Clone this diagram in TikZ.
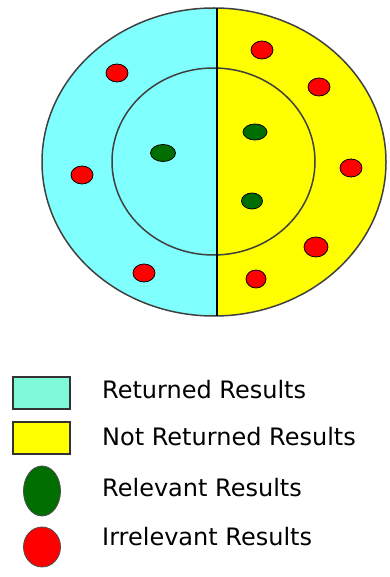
\documentclass[tikz,border=0pt]{standalone}
\usepackage{fontspec}
\setmainfont{DejaVu Sans}
\usetikzlibrary{shapes.geometric}

\definecolor{retcyan}{HTML}{80FFFF}
\definecolor{legcyan}{HTML}{7FFAD8}
\definecolor{notyellow}{HTML}{FFFF00}
\definecolor{relgreen}{HTML}{006E00}
\definecolor{irrred}{HTML}{FF0000}
\definecolor{rimgray}{HTML}{404040}

\tikzset{
  irrdot/.style={ellipse, draw=black, line width=0.8pt, fill=irrred,
    minimum width=22pt, minimum height=18pt, inner sep=0pt},
  reldot/.style={ellipse, draw=black, line width=0.8pt, fill=relgreen,
    minimum width=22pt, minimum height=17pt, inner sep=0pt},
  legbox/.style={rectangle, draw=black!80, line width=2pt,
    minimum width=57pt, minimum height=32pt, inner sep=0pt},
  legtext/.style={anchor=west, inner sep=0pt, font=\fontsize{24}{26}\selectfont}
}

\begin{document}
\begin{tikzpicture}[x=1pt, y=-1pt]

    \useasboundingbox (0,0) rectangle (389,577);

    % === 中心与分界 ===
    \coordinate (O) at (214, 162);
    \coordinate (T) at (217, 8);
    \coordinate (B) at (217, 316);

    % === 两半着色 ===
    \begin{scope}
      \clip (O) ellipse [x radius=172, y radius=154];
      \fill[retcyan] (0,0) rectangle (217,330);
      \fill[notyellow] (217,0) rectangle (400,330);
    \end{scope}

    % === 外圈、内圈与竖线 ===
    \draw[rimgray, line width=1.5pt] (O) ellipse [x radius=172, y radius=154];
    \draw[rimgray, line width=1.5pt] (213.5, 161.5) ellipse [x radius=101.5, y radius=93.5];
    \draw[black, line width=1.5pt] (T) -- (B);

    % === 不相关结果 ===
    \node[irrdot] (r1) at (117, 73) {};
    \node[irrdot] (r2) at (82, 175) {};
    \node[irrdot] (r3) at (144, 273) {};
    \node[irrdot] (r4) at (262, 50) {};
    \node[irrdot] (r5) at (319, 87) {};
    \node[irrdot] (r6) at (351, 168) {};
    \node[irrdot, minimum width=24pt, minimum height=20pt] (r7) at (316, 247) {};
    \node[irrdot, minimum width=20pt] (r8) at (256, 279) {};

    % === 相关结果 ===
    \node[reldot, minimum width=25pt] (g1) at (163, 153) {};
    \node[reldot, minimum width=24pt, minimum height=16pt] (g2) at (255, 132) {};
    \node[reldot, minimum width=21pt, minimum height=16pt] (g3) at (252, 201) {};

    % === 图例 ===
    \node[legbox, fill=legcyan] (kRet) at (41, 393) {};
    \node[legbox, fill=notyellow] (kNot) at (41, 438) {};
    \node[ellipse, draw=black!70, line width=0.8pt, fill=relgreen,
      minimum width=37pt, minimum height=50pt, inner sep=0pt] (kRel) at (42, 491) {};
    \node[ellipse, draw=black!70, line width=0.8pt, fill=irrred,
      minimum width=37pt, minimum height=40pt, inner sep=0pt] (kIrr) at (42, 547) {};

    \node[legtext] (tRet) at (102, 390) {Returned Results};
    \node[legtext] (tNot) at (102, 437) {Not Returned Results};
    \node[legtext] (tRel) at (102, 488) {Relevant Results};
    \node[legtext] (tIrr) at (102, 537) {Irrelevant Results};

\end{tikzpicture}
\end{document}
